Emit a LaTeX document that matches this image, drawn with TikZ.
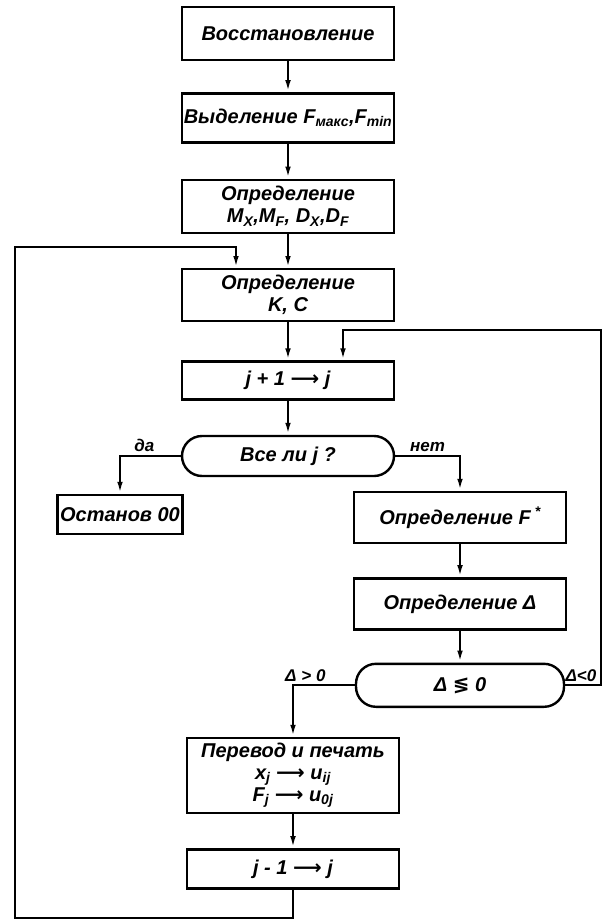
\documentclass[tikz,border=0pt]{standalone}
\usepackage{fontspec}
\setmainfont{Liberation Sans}
\newfontfamily\dejavu{DejaVu Sans}
\usetikzlibrary{positioning,arrows.meta}
\newcommand{\arrto}{{\dejavu ⟶}}
\tikzset{
  blk/.style={draw, line width=2.4pt, minimum width=212pt, align=center, inner sep=2pt,
    font=\bfseries\itshape\fontsize{20}{22}\selectfont},
  cond/.style={blk, rounded corners=20pt},
  lbl/.style={font=\bfseries\itshape\fontsize{17}{19}\selectfont, inner sep=3pt},
  arr/.style={line width=2.2pt, -{Latex[length=12pt,width=5.5pt]}},
}

\begin{document}
\begin{tikzpicture}[x=1pt,y=1pt]
        \useasboundingbox (0,0) rectangle (604,-921);
        \node[blk, minimum height=53pt] (vosst) at (288,-33.5) {Восстановление};
        \node[blk, minimum height=49pt, below=31pt of vosst] (vydel) {Выделение F\textsubscript{макс},F\textsubscript{min}};
        \node[blk, minimum height=53pt, below=35pt of vydel] (momenty) {Определение\\M\textsubscript{X},M\textsubscript{F}, D\textsubscript{X},D\textsubscript{F}};
        \node[blk, minimum height=52pt, below=34pt of momenty] (koef) {Определение\\K, C};
        \node[blk, minimum height=38pt, below=38pt of koef] (jplus) {j + 1 \arrto{} j};
        \node[cond, minimum height=40pt, below=34pt of jplus] (vse) {Все ли j ?};
        \node[blk, minimum width=125pt, minimum height=39pt] (ostanov) at (120,-514.5) {Останов 00};
        \node[blk, minimum height=51pt] (fstar) at (460,-517.5) {Определение F\textsuperscript{ *}};
        \node[blk, minimum height=51pt, below=33pt of fstar] (delta) {Определение Δ};
        \node[cond, minimum width=208pt, minimum height=43pt, below=32pt of delta] (znak) {Δ {\dejavu ≶} 0};
        \node[blk, minimum height=75pt] (perevod) at (293,-775.5) {Перевод и печать\\x\textsubscript{j} \arrto{} u\textsubscript{ij}\\F\textsubscript{j} \arrto{} u\textsubscript{0j}};
        \node[blk, minimum height=39pt, below=34pt of perevod] (jminus) {j - 1 \arrto{} j};
        \coordinate (niz) at (15,-918);
        \coordinate (verh) at (15,-247);
        \coordinate (prav) at (601,-330);
        \draw[arr] (vosst) -- (vydel);
        \draw[arr] (vydel) -- (momenty);
        \draw[arr] (momenty) -- (koef);
        \draw[arr] (koef) -- (jplus);
        \draw[arr] (jplus) -- (vse);
        \draw[arr] (vse.west) -| node[lbl, pos=0.3, above] {да} (ostanov.north);
        \draw[arr] (vse.east) -| node[lbl, pos=0.25, above] {нет} (fstar.north);
        \draw[arr] (fstar) -- (delta);
        \draw[arr] (delta) -- (znak);
        \draw[arr] (znak.west) -| node[lbl, pos=0.4, above] {Δ > 0} (perevod.north);
        \draw[arr] (znak.east) -| node[lbl, pos=0.22, above] {Δ<0} (prav) -| ([xshift=55pt]jplus.north);
        \draw[arr] (perevod) -- (jminus);
        \draw[arr] (jminus.south) |- (niz) -- (verh) -| ([xshift=-52pt]koef.north);
\end{tikzpicture}
\end{document}
